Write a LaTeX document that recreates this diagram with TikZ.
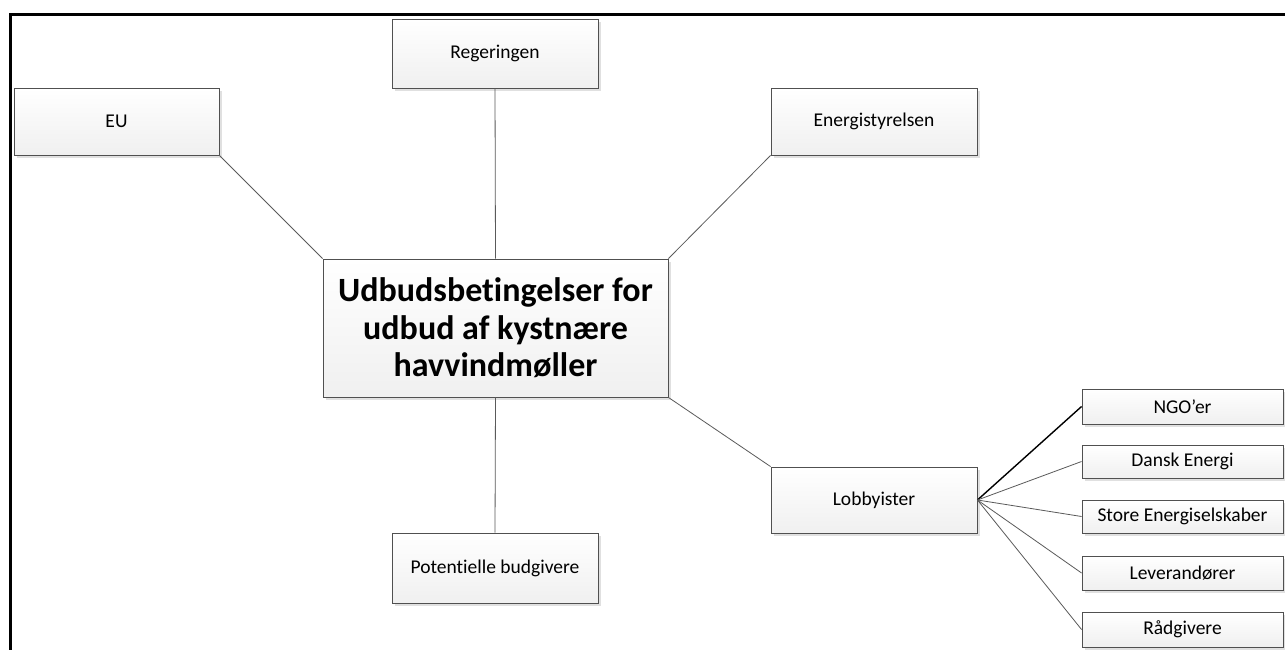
\documentclass[tikz,border=0pt]{standalone}
\usepackage{fontspec}
\setmainfont{Carlito}[Ligatures=NoCommon]
\usetikzlibrary{shadows}
\definecolor{boxline}{RGB}{80,80,80}
\definecolor{conn}{RGB}{90,90,90}
\tikzset{
  box/.style={draw=boxline, line width=0.9pt, top color=white, bottom color=black!6,
    inner sep=0pt, align=center, font=\fontsize{19.5}{23}\selectfont,
    drop shadow={shadow xshift=3pt, shadow yshift=-3pt, fill=black!12, opacity=1}},
  mainbox/.style={box, font=\bfseries\fontsize{34}{37.5}\selectfont},
  conn/.style={draw=conn, line width=0.8pt},
  strong/.style={draw=black, line width=1.4pt}
}
\begin{document}
\begin{tikzpicture}[x=1pt,y=-1pt]
\useasboundingbox (0,0) rectangle (1285,650);
\fill[white] (0,0) rectangle (1285,650);
\draw[line width=3pt] (10,650) -- (10,15) -- (1285,15);
% nodes
\node[box, minimum width=205pt, minimum height=67pt] (eu) at (116.5,121.5) {EU};
\node[box, minimum width=206pt, minimum height=69pt] (reg) at (495,53.5) {Regeringen};
\node[box, minimum width=206pt, minimum height=67pt] (ens) at (874,121.5) {Energistyrelsen};
\node[mainbox, minimum width=345pt, minimum height=138pt] (main) at (495.5,328) {Udbudsbetingelser for\\udbud af kystnære\\havvindmøller};
\node[box, minimum width=206pt, minimum height=66pt] (lob) at (874,500) {Lobbyister};
\node[box, minimum width=206pt, minimum height=70pt] (pot) at (495,568) {Potentielle budgivere};
\node[box, minimum width=201pt, minimum height=35pt] (ngo) at (1182.5,406.5) {NGO’er};
\node[box, minimum width=201pt, minimum height=33pt] (de) at (1182.5,461.5) {Dansk Energi};
\node[box, minimum width=201pt, minimum height=33pt] (se) at (1182.5,516.5) {Store Energiselskaber};
\node[box, minimum width=201pt, minimum height=34pt] (lev) at (1182.5,573) {Leverandører};
\node[box, minimum width=201pt, minimum height=35pt] (rad) at (1182.5,629.5) {Rådgivere};
% connectors
\draw[conn] (eu.south east) -- (main.north west);
\draw[conn] (reg.south) -- (main.north);
\draw[conn] (ens.south west) -- (main.north east);
\draw[conn] (main.south east) -- (lob.north west);
\draw[conn] (main.south) -- (pot.north);
\draw[strong] (lob.east) -- (ngo.west);
\draw[conn] (lob.east) -- (de.west);
\draw[conn] (lob.east) -- (se.west);
\draw[conn] (lob.east) -- (lev.west);
\draw[conn] (lob.east) -- (rad.west);
\end{tikzpicture}
\end{document}
